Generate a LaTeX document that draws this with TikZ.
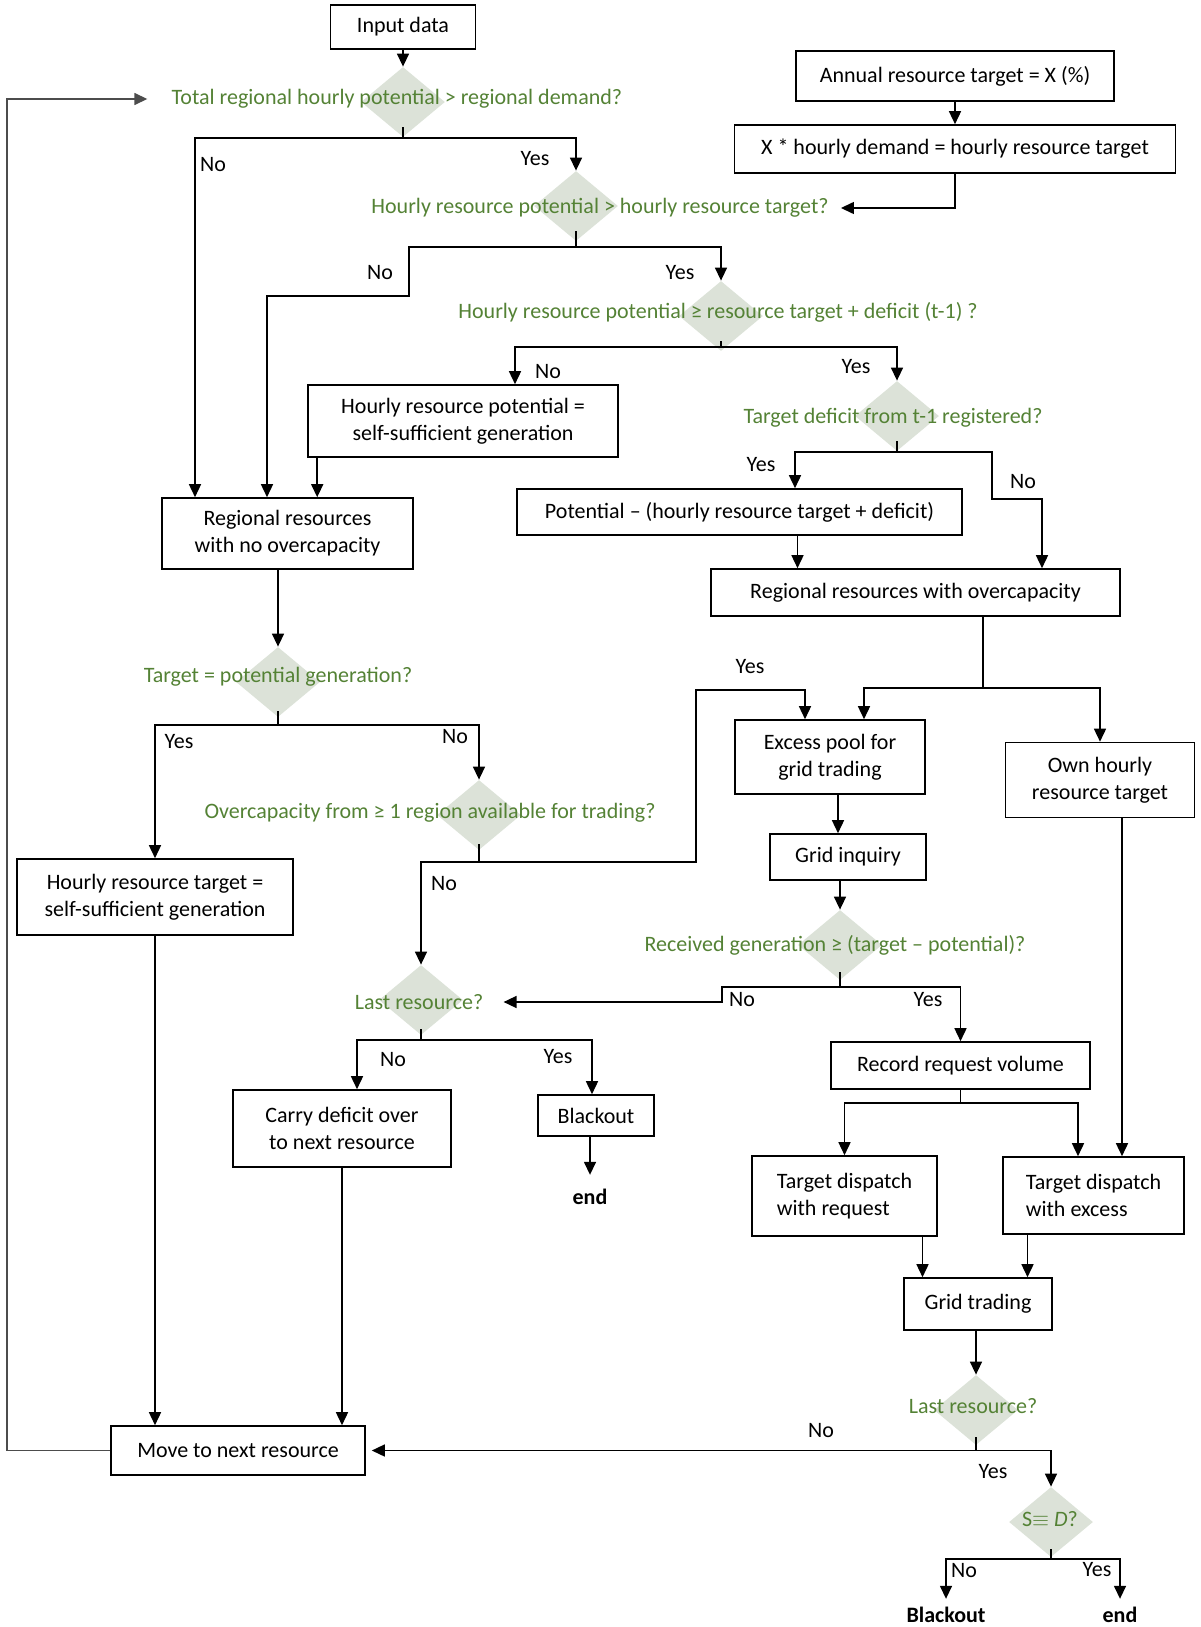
\documentclass[tikz,border=0pt]{standalone}
\usepackage{fontspec}
\setmainfont{Carlito}
\usetikzlibrary{shapes.geometric, arrows.meta}
\definecolor{qgreen}{RGB}{84,130,53}
\definecolor{diafill}{RGB}{220,226,216}
\tikzset{
  every node/.style={font=\fontsize{11}{13.4}\selectfont},
  box/.style={draw, line width=0.8pt, align=center, inner sep=2pt},
  dia/.style={diamond, fill=diafill, minimum width=42pt, minimum height=35pt, inner sep=0pt},
  qtext/.style={text=qgreen, inner sep=1pt},
  lbl/.style={inner sep=0pt},
  fin/.style={font=\fontsize{11}{13.4}\selectfont\bfseries, inner sep=1pt},
  arr/.style={-{Triangle[length=6.5pt,width=6pt]}, line width=0.75pt}
}

\begin{document}
\begin{tikzpicture}[x=0.5pt, y=-0.5pt]
\useasboundingbox (0,0) rectangle (1200,1627);

% decisions
\node[dia] (qtotal) at (403,102) {};
\node[qtext] (tq1) at (397,99) {Total regional hourly potential > regional demand?};
\node[dia] (qpot) at (576,206) {};
\node[qtext] (tq2) at (600,208) {Hourly resource potential > hourly resource target?};
\node[dia] (qdef) at (721,316) {};
\node[qtext] (tq3) at (718,312) {Hourly resource potential ≥ resource target + deficit (t-1) ?};
\node[dia] (qreg) at (897,416) {};
\node[qtext] (tq4) at (893,418) {Target deficit from t-1 registered?};
\node[dia] (qeq) at (278,682) {};
\node[qtext] (tq5) at (278,677) {Target = potential generation?};
\node[dia] (qtrade) at (479,815) {};
\node[qtext] (tq6) at (430,813) {Overcapacity from ≥ 1 region available for trading?};
\node[dia] (qlast) at (421,1000) {};
\node[qtext] (tq7) at (419,1002) {Last resource?};
\node[dia] (qrecv) at (840,945) {};
\node[qtext] (tq8) at (835,945) {Received generation ≥ (target -- potential)?};
\node[dia] (qlast2) at (976,1410) {};
\node[qtext] (tq9) at (973,1406) {Last resource?};
\node[dia] (qsd) at (1051,1522) {};
\node[qtext] (tq10) at (1050,1519) {S$\equiv$ \textit{D}?};

% boxes
\node[box, minimum width=72.5pt, minimum height=22pt] (input) at (403,27) {Input data};
\node[box, minimum width=159pt, minimum height=25pt] (annual) at (955,76) {Annual resource target = X (\%)};
\node[box, minimum width=220.5pt, minimum height=24pt] (xdemand) at (955,149) {X * hourly demand = hourly resource target};
\node[box, minimum width=155pt, minimum height=36pt] (hrpot) at (463,421) {Hourly resource potential =\\self-sufficient generation};
\node[box, minimum width=125.5pt, minimum height=35.5pt] (nocap) at (287.5,533.5) {Regional resources\\with no overcapacity};
\node[box, minimum width=222.5pt, minimum height=23pt] (potdef) at (739.5,512) {Potential -- (hourly resource target + deficit)};
\node[box, minimum width=204.5pt, minimum height=23.5pt] (overcap) at (915.5,592.5) {Regional resources with overcapacity};
\node[box, minimum width=138pt, minimum height=38pt] (hrtgt) at (155,897) {Hourly resource target =\\self-sufficient generation};
\node[box, minimum width=95pt, minimum height=37pt] (excess) at (830,757) {Excess pool for\\grid trading};
\node[box, minimum width=94.5pt, minimum height=37.5pt] (own) at (1100,780) {Own hourly\\resource target};
\node[box, minimum width=78pt, minimum height=23pt] (inquiry) at (848,857) {Grid inquiry};
\node[box, minimum width=109pt, minimum height=38.5pt] (carry) at (342,1128.5) {Carry deficit over\\to next resource};
\node[box, minimum width=58pt, minimum height=20.5pt] (blkout) at (596,1115.5) {Blackout};
\node[fin] (endA) at (590,1197) {end};
\node[box, minimum width=129.5pt, minimum height=23.5pt] (record) at (960.5,1065.5) {Record request volume};
\node[box, align=left, minimum width=92.5pt, minimum height=40pt] (dreq) at (844.5,1196) {Target dispatch\\with request};
\node[box, align=left, minimum width=90.5pt, minimum height=38.5pt] (dexc) at (1093.5,1195.5) {Target dispatch\\with excess};
\node[box, minimum width=74pt, minimum height=26pt] (trading) at (978,1304) {Grid trading};
\node[box, minimum width=127pt, minimum height=24.5pt] (move) at (238,1450.5) {Move to next resource};
\node[fin] (blkoutB) at (946,1615) {Blackout};
\node[fin] (endB) at (1120,1615) {end};

% yes / no
\node[lbl] (l1n) at (213,165) {No};
\node[lbl] (l1y) at (535,159) {Yes};
\node[lbl] (l2n) at (380,273) {No};
\node[lbl] (l2y) at (680,273) {Yes};
\node[lbl] (l3n) at (548,372) {No};
\node[lbl] (l3y) at (856,367) {Yes};
\node[lbl] (l4y) at (761,465) {Yes};
\node[lbl] (l4n) at (1023,482) {No};
\node[lbl] (l5y) at (179,742) {Yes};
\node[lbl] (l5n) at (455,737) {No};
\node[lbl] (l6n) at (444,884) {No};
\node[lbl] (l6y) at (750,667) {Yes};
\node[lbl] (l8n) at (742,1000) {No};
\node[lbl] (l8y) at (928,1000) {Yes};
\node[lbl] (l7n) at (393,1060) {No};
\node[lbl] (l7y) at (558,1057) {Yes};
\node[lbl] (l9n) at (821,1431) {No};
\node[lbl] (l9y) at (993,1472) {Yes};
\node[lbl] (l10n) at (964,1570) {No};
\node[lbl] (l10y) at (1097,1570) {Yes};

% bends
\coordinate (b1l) at (195,138); \coordinate (b1r) at (576,138);
\coordinate (b2l) at (409,247); \coordinate (b2k) at (267,296); \coordinate (b2r) at (721,247);
\coordinate (b3l) at (515,347); \coordinate (b3r) at (897,347);
\coordinate (b4l) at (795,452); \coordinate (b4r) at (992,452); \coordinate (b4k) at (1042,499);
\coordinate (b5l) at (155,725); \coordinate (b5r) at (479,725);
\coordinate (b6l) at (421,862); \coordinate (b6r) at (696,862); \coordinate (b6k) at (805,690);
\coordinate (b12) at (983,688); \coordinate (b12l) at (864,688); \coordinate (b12r) at (1100,688);
\coordinate (b8l) at (722,987); \coordinate (b8r) at (960.5,987);
\coordinate (b7l) at (357,1040); \coordinate (b7r) at (592,1040);
\coordinate (b13l) at (844.5,1103); \coordinate (b13r) at (1078,1103);
\coordinate (b9r) at (1051,1450.5);
\coordinate (b10l) at (946,1559); \coordinate (b10r) at (1120,1559);
\coordinate (fb) at (7,99);
\coordinate (h1) at ([xshift=5pt]hrpot.south west);
\coordinate (p1) at ([xshift=29pt]potdef.south);
\coordinate (e1) at ([xshift=4pt]excess.south);
\coordinate (o1) at ([xshift=11pt]own.south);
\coordinate (r1) at ([xshift=39pt]dreq.south);
\coordinate (x1) at ([xshift=-33pt]dexc.south);

% connectors
\draw[arr] (input) -- (qtotal);
\draw[arr] (annual) -- (xdemand);
\draw[arr] (xdemand.south) |- ([xshift=5pt]tq2.east);
\draw[arr] ([yshift=5pt]qtotal.south) |- (b1l) -- (b1l |- nocap.north);
\draw[arr] ([yshift=5pt]qtotal.south) |- (b1r) -- (qpot.north);
\draw[arr] ([yshift=5pt]qpot.south) |- (b2l) |- (b2k) -- (b2k |- nocap.north);
\draw[arr] ([yshift=5pt]qpot.south) |- (b2r) -- (qdef.north);
\draw[arr] ([yshift=5pt]qdef.south) |- (b3l) -- (b3l |- hrpot.north);
\draw[arr] ([yshift=5pt]qdef.south) |- (b3r) -- (qreg.north);
\draw[arr] (h1) -- (h1 |- nocap.north);
\draw[arr] ([yshift=5pt]qreg.south) |- (b4l) -- (b4l |- potdef.north);
\draw[arr] ([yshift=5pt]qreg.south) |- (b4r) |- (b4k) -- (b4k |- overcap.north);
\draw[arr] (p1) -- (p1 |- overcap.north);
\draw[arr] (qeq.north |- nocap.south) -- (qeq.north);
\draw[arr] ([yshift=3pt]qeq.south) |- (b5l) -- (hrtgt.north);
\draw[arr] ([yshift=3pt]qeq.south) |- (b5r) -- (qtrade.north);
\draw[arr] ([yshift=3pt]qtrade.south) |- (b6l) -- (qlast.north);
\draw[arr] ([yshift=3pt]qtrade.south) |- (b6r) |- (b6k) -- (b6k |- excess.north);
\draw[arr] (overcap.south -| b12) |- (b12l) -- (b12l |- excess.north);
\draw[arr] (overcap.south -| b12) |- (b12r) -- (own.north);
\draw[arr] (e1) -- (e1 |- inquiry.north);
\draw[arr] (qrecv.north |- inquiry.south) -- (qrecv.north);
\draw[arr] ([yshift=4pt]qrecv.south) |- (b8l) |- ([xshift=9pt]tq7.east);
\draw[arr] ([yshift=4pt]qrecv.south) |- (b8r) -- (record.north);
\draw[arr] ([yshift=3pt]qlast.south) |- (b7l) -- (b7l |- carry.north);
\draw[arr] ([yshift=3pt]qlast.south) |- (b7r) -- (b7r |- blkout.north);
\draw[arr, shorten >=6pt] (blkout.south -| endA) -- (endA.north);
\draw[arr] (record.south) |- (b13l) -- (dreq.north);
\draw[arr] (record.south) |- (b13r) -- (b13r |- dexc.north);
\draw[arr] (o1) -- (o1 |- dexc.north);
\draw[arr] (r1) -- (r1 |- trading.north);
\draw[arr] (x1) -- (x1 |- trading.north);
\draw[arr] (qlast2.north |- trading.south) -- (qlast2.north);
\draw[arr] ([yshift=4pt]qlast2.south) |- ([xshift=3pt]move.east);
\draw[arr] ([yshift=4pt]qlast2.south) |- (b9r) -- (qsd.north);
\draw[arr, shorten >=3pt] ([yshift=4pt]qsd.south) |- (b10l) -- (blkoutB.north);
\draw[arr, shorten >=3pt] ([yshift=4pt]qsd.south) |- (b10r) -- (endB.north);
\draw[arr] (hrtgt.south) -- (hrtgt.south |- move.north);
\draw[arr] (carry.south) -- (carry.south |- move.north);
\draw[arr, draw=black!70] (move.west) -| (fb) -- ([xshift=-11pt]tq1.west);
\end{tikzpicture}
\end{document}
